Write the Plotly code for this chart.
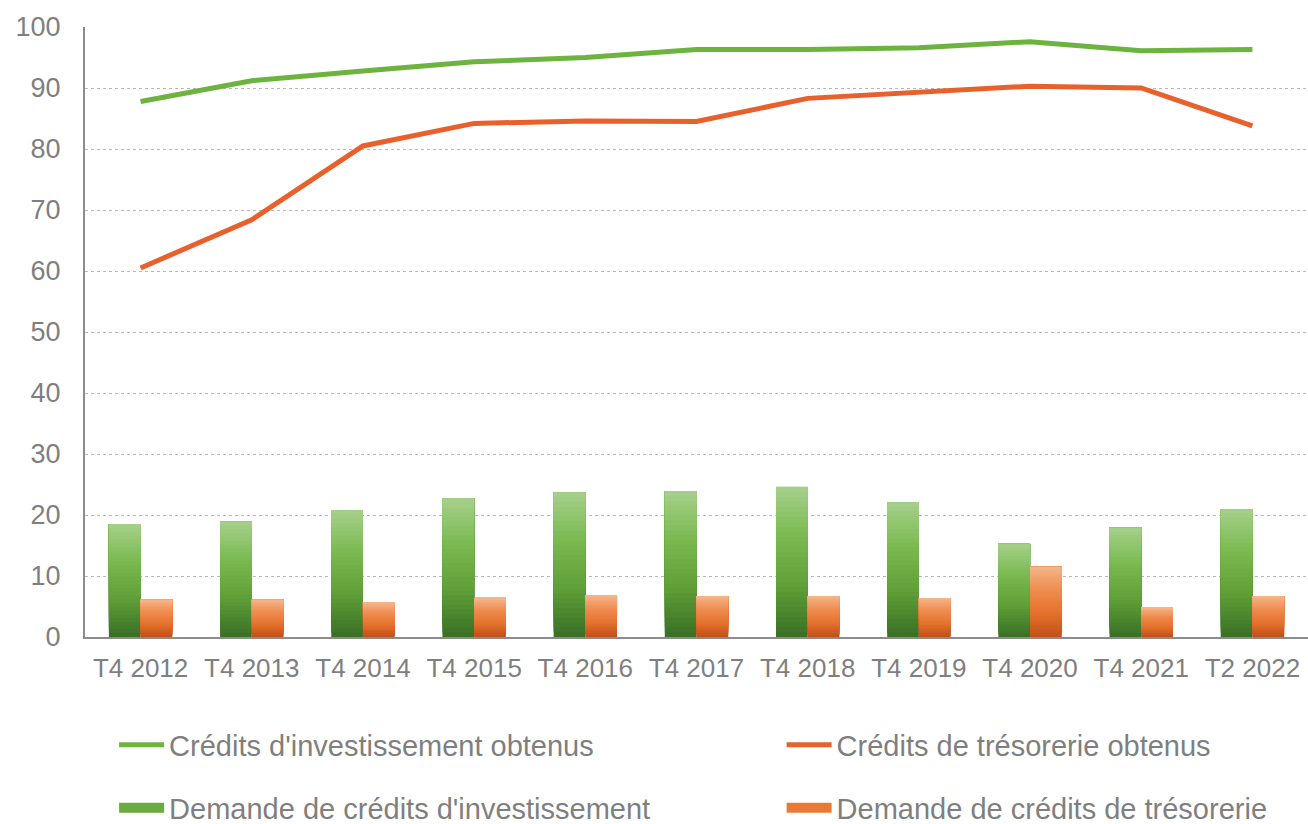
import plotly.graph_objects as go

categories = ["T4 2012", "T4 2013", "T4 2014", "T4 2015", "T4 2016", "T4 2017",
              "T4 2018", "T4 2019", "T4 2020", "T4 2021", "T2 2022"]
credits_invest_obtenus = [87.8, 91.2, 92.8, 94.3, 95.0, 96.3, 96.3, 96.6, 97.6, 96.1, 96.3]
credits_treso_obtenus = [60.5, 68.4, 80.5, 84.2, 84.6, 84.5, 88.3, 89.4, 90.3, 90.0, 83.8]
demande_invest = [18.5, 18.9, 20.8, 22.7, 23.7, 23.9, 24.6, 22.1, 15.3, 17.9, 21.0]
demande_treso = [6.1, 6.1, 5.7, 6.4, 6.8, 6.7, 6.7, 6.4, 11.5, 4.9, 6.7]

names = {
    "l1": "Crédits d'investissement obtenus",
    "l2": "Crédits de trésorerie obtenus",
    "b1": "Demande de crédits d'investissement",
    "b2": "Demande de crédits de trésorerie",
}

FONT = "Liberation Sans, Arial, sans-serif"
GREY = "#7f7f7f"
N_SEG = 30


def hex2rgb(h):
    h = h.lstrip("#")
    return tuple(int(h[i:i + 2], 16) for i in (0, 2, 4))


def interp(stops, t):
    n = len(stops) - 1
    pos = t * n
    i = min(int(pos), n - 1)
    f = pos - i
    a, b = hex2rgb(stops[i]), hex2rgb(stops[i + 1])
    c = [round(a[k] + (b[k] - a[k]) * f) for k in range(3)]
    return "rgb(%d,%d,%d)" % tuple(c)


green_stops = ["#3b7126", "#5f9f37", "#79b94f", "#a4cf88"]
orange_stops = ["#c2501a", "#e4722c", "#ee8b4d", "#f5b387"]

fig = go.Figure()


def add_gradient_bars(values, stops, group, name, legend_color, legend_id):
    # each layer spans from its base up to the full value; later layers overlay
    for k in range(N_SEG):
        t = k / (N_SEG - 1)
        fig.add_trace(go.Bar(
            x=categories,
            y=[v * (N_SEG - k) / N_SEG for v in values],
            base=[v * k / N_SEG for v in values],
            offsetgroup=group,
            marker=dict(color=interp(stops, t), line=dict(width=0)),
            showlegend=False,
            hoverinfo="skip",
        ))
    # legend key drawn as a thick swatch
    fig.add_trace(go.Scatter(
        x=[None], y=[None], mode="lines",
        line=dict(color=legend_color, width=18),
        name=name, showlegend=True, legend=legend_id, hoverinfo="skip",
    ))


add_gradient_bars(demande_invest, green_stops, "inv", names["b1"], "#6aab40", "legend3")
add_gradient_bars(demande_treso, orange_stops, "tre", names["b2"], "#e97a36", "legend4")

fig.add_trace(go.Scatter(
    x=categories, y=credits_invest_obtenus, mode="lines",
    line=dict(color="#6db33f", width=5), name=names["l1"], legend="legend",
))
fig.add_trace(go.Scatter(
    x=categories, y=credits_treso_obtenus, mode="lines",
    line=dict(color="#e8602c", width=5), name=names["l2"], legend="legend2",
))


def leg(x, y):
    return dict(
        orientation="h", xanchor="left", yanchor="middle", x=x, y=y,
        font=dict(family=FONT, size=29, color=GREY),
        bgcolor="rgba(0,0,0,0)", itemwidth=45,
    )


fig.update_layout(
    width=1308, height=824,
    margin=dict(l=85, r=0, t=27, b=187, autoexpand=False),
    paper_bgcolor="white", plot_bgcolor="white",
    barmode="group", bargap=0.43, bargroupgap=0.0,
    font=dict(family=FONT, size=26, color=GREY),
    legend=leg(0.0238, -0.177),
    legend2=leg(0.5696, -0.177),
    legend3=leg(0.0238, -0.280),
    legend4=leg(0.5696, -0.280),
    xaxis=dict(
        showline=True, linecolor="#8c8c8c", linewidth=2,
        showgrid=False, ticks="", tickfont=dict(size=26, color=GREY),
        ticklabelstandoff=7,
    ),
    yaxis=dict(
        range=[0, 100], dtick=10, showline=True, linecolor="#8c8c8c", linewidth=2,
        showgrid=True, gridcolor="#b8b8b8", griddash="dot", gridwidth=1,
        zeroline=False, ticks="", tickfont=dict(size=27, color=GREY),
        ticklabelstandoff=17,
    ),
)

fig.write_html(
    "out.html",
    config={"displayModeBar": False},
    post_script="document.body.style.margin='0';document.body.style.overflow='hidden';",
)
